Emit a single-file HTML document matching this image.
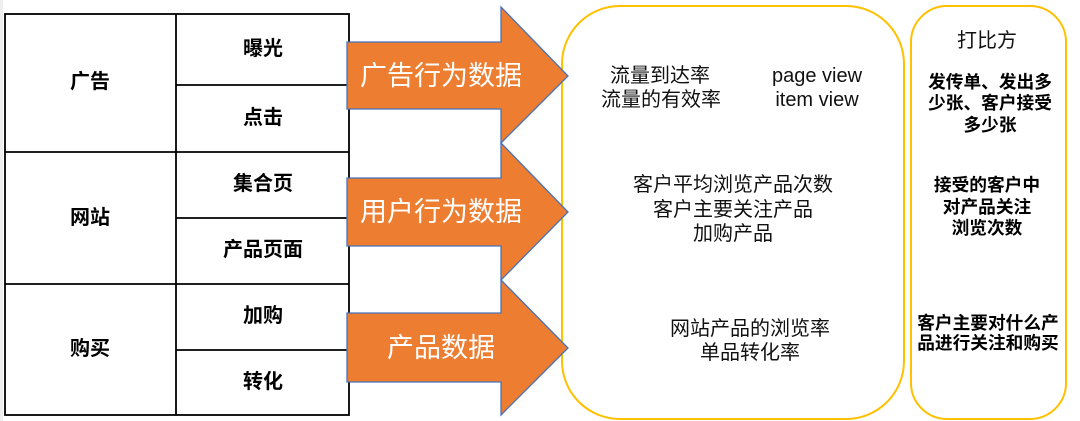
<!DOCTYPE html>
<html>
<head>
<meta charset="utf-8">
<style>
html,body{margin:0;padding:0;background:#fff;}
body{width:1080px;height:421px;overflow:hidden;}
svg{display:block;}
.b{font-family:"Liberation Sans","Noto Sans CJK SC",sans-serif;font-weight:bold;font-size:20px;fill:#000;}
.r{font-family:"Liberation Sans","Noto Sans CJK SC",sans-serif;font-size:20px;fill:#111;}
.a{font-family:"Liberation Sans","Noto Sans CJK SC",sans-serif;font-size:27px;fill:#fff;}
.s{font-family:"Liberation Sans","Noto Sans CJK SC",sans-serif;font-weight:bold;font-size:17.7px;fill:#000;}
</style>
</head>
<body>
<svg width="1080" height="421" viewBox="0 0 1080 421" xmlns="http://www.w3.org/2000/svg">
<rect x="0" y="0" width="1080" height="421" fill="#fff"/>
<rect x="0" y="0" width="3" height="421" fill="#eeeeee"/>
<!-- table -->
<g stroke="#000" stroke-width="1.8" fill="none">
<rect x="5" y="14" width="344" height="401"/>
<line x1="176" y1="14" x2="176" y2="415"/>
<line x1="5" y1="152" x2="349" y2="152"/>
<line x1="5" y1="284" x2="349" y2="284"/>
<line x1="176" y1="85" x2="349" y2="85"/>
<line x1="176" y1="218" x2="349" y2="218"/>
<line x1="176" y1="350" x2="349" y2="350"/>
</g>
<g class="b" text-anchor="middle" dominant-baseline="central">
<text x="90" y="82">广告</text>
<text x="90" y="218">网站</text>
<text x="90" y="349">购买</text>
<text x="263" y="49">曝光</text>
<text x="263" y="118">点击</text>
<text x="263" y="184">集合页</text>
<text x="263" y="250">产品页面</text>
<text x="263" y="316">加购</text>
<text x="263" y="382">转化</text>
</g>
<!-- yellow boxes -->
<rect x="562" y="6" width="342" height="413" rx="58" ry="58" fill="none" stroke="#FFC000" stroke-width="2"/>
<rect x="911" y="6" width="155" height="413" rx="36" ry="36" fill="none" stroke="#FFC000" stroke-width="2"/>
<!-- arrows -->
<g fill="#ED7D31" stroke="#4A72B8" stroke-width="1.3" stroke-linejoin="miter">
<polygon points="347,42 501,42 501,7 568,76 501,143 501,109 347,109"/>
<polygon points="347,178 501,178 501,143 568,212 501,280 501,246 347,246"/>
<polygon points="347,313 501,313 501,280 568,348 501,415 501,382 347,382"/>
</g>
<g class="a" text-anchor="middle" dominant-baseline="central">
<text x="441" y="76">广告行为数据</text>
<text x="441" y="212">用户行为数据</text>
<text x="441" y="348">产品数据</text>
</g>
<!-- middle box text -->
<g class="r" text-anchor="middle" dominant-baseline="central">
<text x="660" y="76">流量到达率</text>
<text x="661" y="100">流量的有效率</text>
<text x="817" y="76">page view</text>
<text x="817" y="100">item view</text>
<text x="733" y="185">客户平均浏览产品次数</text>
<text x="733" y="210">客户主要关注产品</text>
<text x="733" y="234">加购产品</text>
<text x="750" y="329">网站产品的浏览率</text>
<text x="750" y="353">单品转化率</text>
<text x="987" y="41">打比方</text>
</g>
<g class="s" text-anchor="middle" dominant-baseline="central">
<text x="990" y="82">发传单、发出多</text>
<text x="990" y="103">少张、客户接受</text>
<text x="990" y="125">多少张</text>
<text x="987" y="185">接受的客户中</text>
<text x="987" y="207">对产品关注</text>
<text x="987" y="228">浏览次数</text>
<text x="988" y="323">客户主要对什么产</text>
<text x="988" y="343">品进行关注和购买</text>
</g>
</svg>
</body>
</html>
